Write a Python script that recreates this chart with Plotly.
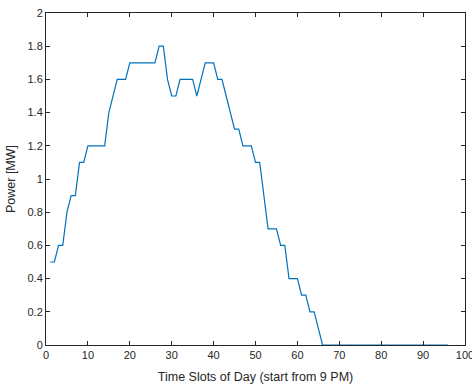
import plotly.graph_objects as go

slots = list(range(1, 97))
power_head = [0.5, 0.5, 0.6, 0.6, 0.8, 0.9, 0.9, 1.1, 1.1, 1.2,
              1.2, 1.2, 1.2, 1.2, 1.4, 1.5, 1.6, 1.6, 1.6, 1.7,
              1.7, 1.7, 1.7, 1.7, 1.7, 1.7, 1.8, 1.8, 1.6, 1.5,
              1.5, 1.6, 1.6, 1.6, 1.6, 1.5, 1.6, 1.7, 1.7, 1.7,
              1.6, 1.6, 1.5, 1.4, 1.3, 1.3, 1.2, 1.2, 1.2, 1.1,
              1.1, 0.9, 0.7, 0.7, 0.7, 0.6, 0.6, 0.4, 0.4, 0.4,
              0.3, 0.3, 0.2, 0.2, 0.1, 0.0]
power = power_head + [0.0] * (len(slots) - len(power_head))

x_ticks = list(range(0, 101, 10))
y_ticks = [0, 0.2, 0.4, 0.6, 0.8, 1, 1.2, 1.4, 1.6, 1.8, 2]
y_labels = ["0", "0.2", "0.4", "0.6", "0.8", "1", "1.2", "1.4", "1.6", "1.8", "2"]

axis_color = "#262626"
font_family = "Liberation Sans, Arial, sans-serif"

fig = go.Figure(go.Scatter(x=slots, y=power, mode="lines",
                           line=dict(color="#0072BD", width=1.2)))

fig.update_layout(
    width=472, height=387,
    margin=dict(l=46, r=7, t=13, b=42),
    paper_bgcolor="white", plot_bgcolor="white",
    showlegend=False,
    font=dict(family=font_family, size=10, color=axis_color),
)
fig.update_xaxes(
    range=[0, 100], tickvals=x_ticks, ticktext=[str(v) for v in x_ticks],
    ticks="inside", ticklen=4, tickcolor=axis_color, tickwidth=1,
    showline=True, linecolor=axis_color, linewidth=1, mirror="ticks",
    showgrid=False, zeroline=False, ticklabeloverflow="allow", automargin=False,
    tickfont=dict(size=11, color=axis_color),
    title=dict(text="Time Slots of Day (start from 9 PM)", font=dict(size=12.5, color=axis_color), standoff=12),
)
fig.update_yaxes(
    range=[0, 2], tickvals=y_ticks, ticktext=y_labels,
    ticks="inside", ticklen=4, tickcolor=axis_color, tickwidth=1,
    showline=True, linecolor=axis_color, linewidth=1, mirror="ticks",
    showgrid=False, zeroline=False, automargin=False,
    tickfont=dict(size=11, color=axis_color),
    title=dict(text="Power [MW]", font=dict(size=12.5, color=axis_color), standoff=9),
)

fig.write_html("out.html")
